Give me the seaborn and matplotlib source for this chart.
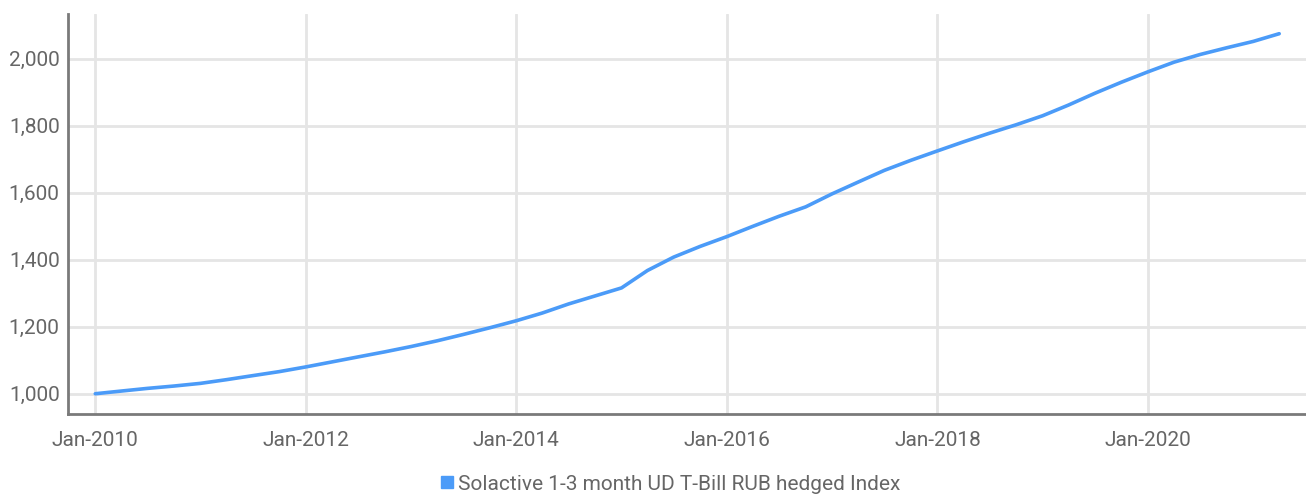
import matplotlib
matplotlib.use("Agg")
import matplotlib.pyplot as plt
import matplotlib.dates as mdates
from matplotlib.lines import Line2D
import pandas as pd
import seaborn as sns

# Quarterly index levels, Jan-2010 .. Apr-2021
dates = pd.date_range("2010-01-01", "2021-04-01", freq="QS")
index_values = [
    1000, 1008, 1016, 1023,
    1031, 1042, 1054, 1066,
    1080, 1095, 1110, 1125,
    1141, 1158, 1177, 1197,
    1218, 1241, 1268, 1292,
    1316, 1368, 1408, 1440,
    1469, 1500, 1530, 1558,
    1597, 1632, 1667, 1697,
    1725, 1752, 1778, 1803,
    1830, 1862, 1897, 1930,
    1961, 1990, 2013, 2033,
    2052, 2075,
]
series_name = "Solactive 1-3 month UD T-Bill RUB hedged Index"
y_ticks = [1000, 1200, 1400, 1600, 1800, 2000]
x_ticks = ["2010-01-01", "2012-01-01", "2014-01-01", "2016-01-01", "2018-01-01", "2020-01-01"]

df = pd.DataFrame({"date": dates, "value": index_values})

sns.set_theme(style="white")
plt.rcParams["font.family"] = ["Roboto", "DejaVu Sans"]

line_color = "#4b9bf8"
text_color = "#666666"

fig = plt.figure(figsize=(13.06, 4.98), dpi=100)
ax = fig.add_axes([0.052, 0.169, 0.948, 0.803])

sns.lineplot(data=df, x="date", y="value", ax=ax, color=line_color, linewidth=2.6)

ax.set_ylim(940, 2134)
ax.set_xlim(pd.Timestamp("2009-09-28"), pd.Timestamp("2021-07-03"))
ax.set_yticks(y_ticks)
ax.yaxis.set_major_formatter(matplotlib.ticker.FuncFormatter(lambda v, p: f"{int(v):,}"))
ax.set_xticks(pd.to_datetime(x_ticks))
ax.xaxis.set_major_formatter(mdates.DateFormatter("%b-%Y"))

ax.grid(True, color="#e5e5e5", linewidth=2)
ax.set_axisbelow(True)
for s in ["top", "right"]:
    ax.spines[s].set_visible(False)
for s in ["left", "bottom"]:
    ax.spines[s].set_color("#7a7a7a")
    ax.spines[s].set_linewidth(2)

ax.tick_params(axis="both", length=0, labelsize=15, labelcolor=text_color)
ax.tick_params(axis="y", pad=6)
ax.tick_params(axis="x", pad=12)
ax.set_xlabel("")
ax.set_ylabel("")

handle = Line2D([], [], marker="s", linestyle="none", color=line_color, markersize=8)
fig.legend([handle], [series_name], loc="center", bbox_to_anchor=(0.512, 0.028),
           frameon=False, fontsize=15, labelcolor=text_color,
           handletextpad=0.0, handlelength=1.0)

fig.savefig("out.png", dpi=100)
